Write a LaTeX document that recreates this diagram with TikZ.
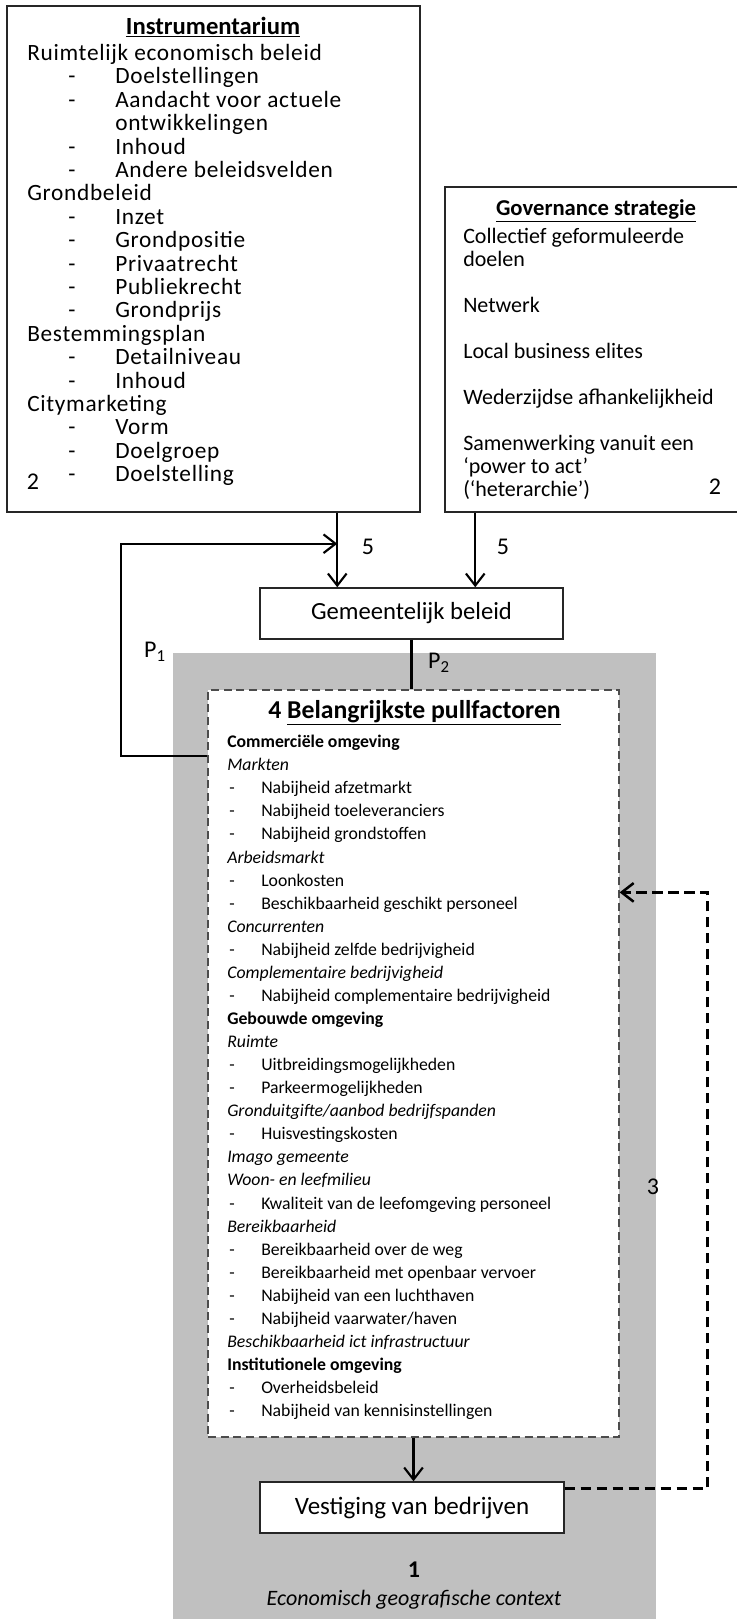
\documentclass[tikz,border=0pt]{standalone}
\usepackage{fontspec}
\setmainfont{Carlito}
\usetikzlibrary{arrows.meta,positioning,calc}

\definecolor{kader}{RGB}{192,192,192}
\newcommand{\fsz}[2]{\fontsize{#1}{#2}\selectfont}
\newcommand{\instrdash}{\makebox[66pt][l]{\hspace*{30.75pt}-}}
\newcommand{\pulldash}{\makebox[25.5pt][l]{\hspace*{1.5pt}-}}

\begin{document}
\begin{tikzpicture}[x=0.75pt, y=-0.75pt,
    blok/.style={draw=black!85, line width=1.1pt, fill=white, inner sep=0pt},
    stipblok/.style={draw=black!70, line width=0.9pt, dash pattern=on 6pt off 3.5pt, fill=white, inner sep=0pt},
    txt/.style={inner sep=0pt, align=left, anchor=north west},
    kop/.style={inner sep=0pt, font=\fsz{18.5}{22}\bfseries},
    num/.style={inner sep=0pt, font=\fsz{18}{20}},
    pijl/.style={-{Straight Barb[length=9pt,width=14pt]}, line width=1.6pt},
    stippijl/.style={-{Straight Barb[length=9pt,width=14pt]}, line width=1.9pt, dash pattern=on 8pt off 4pt}
]
\useasboundingbox (0,0) rectangle (736,1619);

% grijze achtergrond: economisch geografische context
\fill[kader] (173,653) rectangle (656,1625);

% bovenste blokken
\node[blok, minimum width=309.75pt, minimum height=379.5pt] (instr) at (213.5,259) {};
\node[blok, minimum width=225pt, minimum height=243.75pt] (gov) at (595,349.5) {};

\node[kop] (instrkop) at (213,27) {\underline{Instrumentarium}};
\node[txt, font=\fsz{17.5}{17.55}\addfontfeature{LetterSpace=3}] (instrlijst) at (27,44) {Ruimtelijk economisch beleid\\
\instrdash Doelstellingen\\
\instrdash Aandacht voor actuele\\
\hspace*{66pt}ontwikkelingen\\
\instrdash Inhoud\\
\instrdash Andere beleidsvelden\\
Grondbeleid\\
\instrdash Inzet\\
\instrdash Grondpositie\\
\instrdash Privaatrecht\\
\instrdash Publiekrecht\\
\instrdash Grondprijs\\
Bestemmingsplan\\
\instrdash Detailniveau\\
\instrdash Inhoud\\
Citymarketing\\
\instrdash Vorm\\
\instrdash Doelgroep\\
\instrdash Doelstelling};
\node[num] (instrnr) at (33,482) {2};

\node[kop, font=\fsz{17}{20}\bfseries] (govkop) at (596,211) {\underline{Governance strategie}};
\node[txt, font=\fsz{16.5}{17.25}] (govlijst) at (463,228) {Collectief geformuleerde\\
doelen\\[17.25pt]
Netwerk\\[17.25pt]
Local business elites\\[17.25pt]
Wederzijdse afhankelijkheid\\[17.25pt]
Samenwerking vanuit een\\
‘power to act’\\
(‘heterarchie’)};
\node[num] (govnr) at (715,487) {2};

% gemeentelijk beleid
\node[blok, minimum width=227.25pt, minimum height=38.25pt, font=\fsz{18.5}{22}] (gem) at (411.5,613.5) {Gemeentelijk beleid};
\coordinate (p5a) at ([xshift=58.5pt]gem.north west);
\coordinate (p5b) at ([xshift=162pt]gem.north west);

% pullfactoren
\node[stipblok, minimum width=308.25pt, minimum height=560.25pt] (pull) at (413.5,1063.5) {};
\node[kop, font=\fsz{19.3}{22}\bfseries] (pullkop) at (414.5,713) {4 \underline{Belangrijkste pullfactoren}};
\node[txt, font=\fsz{13.3}{17.3}] (pulllijst) at (227,735) {\textbf{Commerciële omgeving}\\
\textit{Markten}\\
\pulldash Nabijheid afzetmarkt\\
\pulldash Nabijheid toeleveranciers\\
\pulldash Nabijheid grondstoffen\\
\textit{Arbeidsmarkt}\\
\pulldash Loonkosten\\
\pulldash Beschikbaarheid geschikt personeel\\
\textit{Concurrenten}\\
\pulldash Nabijheid zelfde bedrijvigheid\\
\textit{Complementaire bedrijvigheid}\\
\pulldash Nabijheid complementaire bedrijvigheid\\
\textbf{Gebouwde omgeving}\\
\textit{Ruimte}\\
\pulldash Uitbreidingsmogelijkheden\\
\pulldash Parkeermogelijkheden\\
\textit{Gronduitgifte/aanbod bedrijfspanden}\\
\pulldash Huisvestingskosten\\
\textit{Imago gemeente}\\
\textit{Woon- en leefmilieu}\\
\pulldash Kwaliteit van de leefomgeving personeel\\
\textit{Bereikbaarheid}\\
\pulldash Bereikbaarheid over de weg\\
\pulldash Bereikbaarheid met openbaar vervoer\\
\pulldash Nabijheid van een luchthaven\\
\pulldash Nabijheid vaarwater/haven\\
\textit{Beschikbaarheid ict infrastructuur}\\
\textbf{Institutionele omgeving}\\
\pulldash Overheidsbeleid\\
\pulldash Nabijheid van kennisinstellingen};

% vestiging
\node[blok, minimum width=228pt, minimum height=38.25pt, font=\fsz{18.75}{22}] (vest) at (412,1507.5) {Vestiging van bedrijven};
\node[num, font=\fsz{18}{20}\bfseries] (een) at (414,1570) {1};
\node[inner sep=0pt, font=\fsz{16.5}{20}\itshape] (context) at (414,1600) {Economisch geografische context};

% verbindingen
\draw[pijl] (instr.south -| p5a) -- (p5a);
\draw[pijl] (gov.south -| p5b) -- (p5b);
\node[num] (vijfa) at (368,547) {5};
\node[num] (vijfb) at (503,547) {5};

\draw[pijl] ([yshift=-50.25pt]pull.north west) -- ++(-86,0) |- ([yshift=-23.25pt]instr.south -| p5a);
\node[num] (pa) at (155,652) {P\textsubscript{1}};

\draw[line width=1.6pt] (gem.south) -- (gem.south |- pull.north);
\node[num] (pb) at (439,663) {P\textsubscript{2}};

\draw[pijl] (pull.south) -- (pull.south |- vest.north);

\draw[stippijl] ([yshift=-5.25pt]vest.north east) -- ++(143,0) |- ([yshift=-152.25pt]pull.north east);
\node[num] (drie) at (653,1187) {3};
\end{tikzpicture}
\end{document}
